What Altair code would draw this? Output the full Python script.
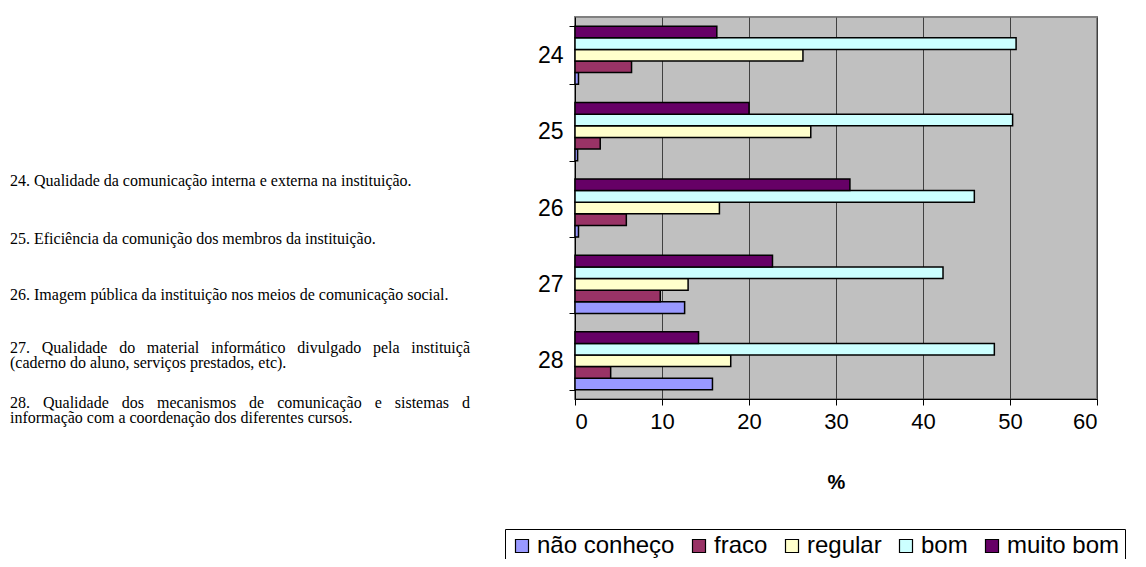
import unicodedata
import altair as alt
import pandas as pd

# ---- data ----
questions = ["24", "25", "26", "27", "28"]
series = ["não conheço", "fraco", "regular", "bom", "muito bom"]
colors = ["#9999FF", "#993366", "#FFFFCC", "#CCFFFF", "#660066"]

nao_conheco = [0.4, 0.3, 0.4, 12.6, 15.8]
fraco = [6.5, 2.9, 5.9, 9.8, 4.1]
regular = [26.2, 27.1, 16.6, 13.0, 17.9]
bom = [50.7, 50.3, 45.9, 42.3, 48.2]
muito_bom = [16.3, 20.0, 31.6, 22.7, 14.2]

descriptions = [
    "24. Qualidade da comunicação interna e externa na instituição.",
    "25. Eficiência da comunição dos membros da instituição.",
    "26. Imagem pública da instituição nos meios de comunicação social.",
    "27. Qualidade do material informático divulgado pela instituiçã",
    "(caderno do aluno, serviços prestados, etc).",
    "28. Qualidade dos mecanismos de comunicação e sistemas d",
    "informação com a coordenação dos diferentes cursos.",
]
justified = [False, False, False, True, False, True, False]
x_ticks = [0, 10, 20, 30, 40, 50, 60]

rows = []
for name, vals in zip(series, [nao_conheco, fraco, regular, bom, muito_bom]):
    for q, v in zip(questions, vals):
        rows.append({"q": q, "serie": name, "valor": v})
df = pd.DataFrame(rows)

# ---- layout ----
W, H = 522, 382
PAD_L, PAD_T, PAD_R, PAD_B = 567, 9, 41, 160
text_y = [164, 222, 278, 331, 346, 386, 401]
TXT_SIZE = 16
TXT_X0 = -565          # page x = 10
TXT_X1 = TXT_X0 + 460  # page x = 470 (justified right edge)

# approximate Times widths (per 1000 em) for justification
TW = {" ": 250, ".": 250, ",": 250, "(": 333, ")": 333, "f": 333, "i": 278,
      "j": 278, "l": 278, "t": 278, "r": 333, "s": 389, "m": 778, "w": 722,
      "a": 444, "c": 444, "e": 444, "z": 444, "Q": 722, "E": 611, "I": 333}


def word_w(w):
    tot = 0
    for ch in w:
        base = unicodedata.normalize("NFD", ch)[0]
        tot += TW.get(base, 500)
    return tot * TXT_SIZE / 1000.0


def text_layer(txt, x, y, align="left"):
    return alt.Chart(pd.DataFrame({"t": [txt]})).mark_text(
        align=align, baseline="middle", font="Liberation Serif",
        fontSize=TXT_SIZE, color="black",
    ).encode(x=alt.value(x), y=alt.value(y), text="t:N")


bars = alt.Chart(df).mark_bar(stroke="black", strokeWidth=1.5).encode(
    x=alt.X(
        "valor:Q",
        scale=alt.Scale(domain=[0, 60], nice=False),
        axis=alt.Axis(
            values=x_ticks, grid=True, gridColor="#404040", gridWidth=1,
            title="%", titleFont="Liberation Sans", titleFontSize=20,
            titleFontWeight="bold", titleColor="black", titlePadding=40,
            labelFont="Liberation Sans", labelFontSize=22, labelColor="black",
            labelPadding=6, tickSize=6, tickColor="black",
            domainColor="black", domainWidth=1,
        ),
    ),
    y=alt.Y(
        "q:N", sort=questions,
        scale=alt.Scale(paddingInner=0.24, paddingOuter=0.12),
        axis=alt.Axis(
            title=None, labelFont="Liberation Sans", labelFontSize=23,
            labelColor="black", labelPadding=6, tickBand="extent",
            tickSize=6, tickColor="black", domainColor="black",
        ),
    ),
    yOffset=alt.YOffset(
        "serie:N",
        scale=alt.Scale(domain=["muito bom", "bom", "regular", "fraco", "não conheço"]),
    ),
    color=alt.Color(
        "serie:N",
        scale=alt.Scale(domain=series, range=colors),
        legend=alt.Legend(
            orient="none", legendX=-70, legendY=512, direction="horizontal",
            columns=5, title=None, labelFont="Liberation Sans",
            labelFontSize=24, labelColor="black", symbolType="square",
            symbolSize=169, symbolStrokeColor="black", symbolStrokeWidth=1.2,
            strokeColor="black", fillColor="white", padding=5,
            columnPadding=12, labelOffset=3, labelLimit=400,
        ),
    ),
)

layers = [bars]
for txt, yy, just in zip(descriptions, text_y, justified):
    if not just:
        layers.append(text_layer(txt, TXT_X0, yy))
    else:
        words = txt.split(" ")
        widths = [word_w(w) for w in words]
        gap = (TXT_X1 - TXT_X0 - sum(widths)) / (len(words) - 1)
        xpos = TXT_X0
        for i, (w, wd) in enumerate(zip(words, widths)):
            if i == len(words) - 1:
                layers.append(text_layer(w, TXT_X1, yy, align="right"))
            else:
                layers.append(text_layer(w, xpos, yy))
            xpos += wd + gap

chart = alt.layer(*layers).properties(
    width=W, height=H,
    padding={"left": PAD_L, "top": PAD_T, "right": PAD_R, "bottom": PAD_B},
    autosize=alt.AutoSizeParams(type="none"),
).configure_view(fill="#C0C0C0", stroke="#808080", strokeWidth=2)

chart.save("out.html", embed_options={"renderer": "svg", "actions": False})
